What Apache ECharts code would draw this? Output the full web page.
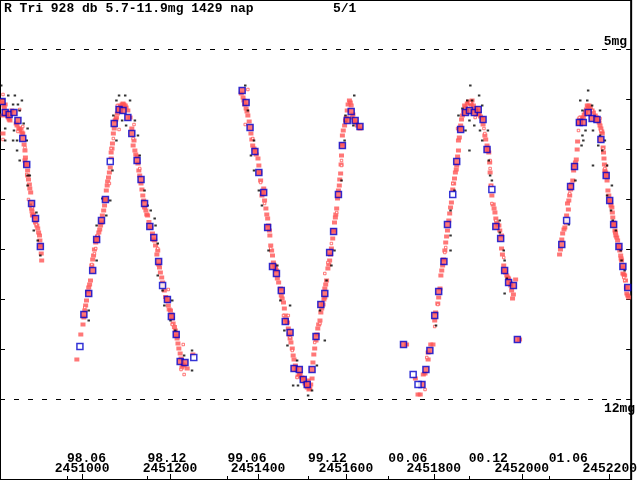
<!DOCTYPE html>
<html>
<head>
<meta charset="utf-8">
<script src="https://cdn.jsdelivr.net/npm/echarts@6/dist/echarts.min.js"></script>
<style>html,body{margin:0;padding:0;background:#fff}#c{width:640px;height:480px}</style>
</head>
<body>
<div id="c"></div>
<script>
// x values are JD - 2450000, y values are visual magnitudes
const titleMain = 'R Tri 928 db 5.7-11.9mg 1429 nap';
const titleRight = '5/1';
const jdTicks = [1000, 1200, 1400, 1600, 1800, 2000, 2200];
const jdLabels = ['2451000', '2451200', '2451400', '2451600', '2451800', '2452000', '2452200'];
const dateTicks = [965.5, 1148.5, 1330.5, 1513.5, 1696.5, 1879.5, 2061.5];
const dateLabels = ['98.06', '98.12', '99.06', '99.12', '00.06', '00.12', '01.06'];
const magTicks = [5, 6, 7, 8, 9, 10, 11, 12];
const magLines = [5, 12];
const magLineLabels = ['5mg', '12mg'];

const redFilled = [
[818,6.06],[823,6.18],[827,6.26],[832,6.36],[825,6.10],[820,6.32],[852,6.52],[858,6.62],[865,6.68],[861,6.58],[836,6.42],[840,6.22],[820,6.68],[870,7.02],[871,7.16],[870,7.22],[876,7.42],[876,7.52],[881,7.78],[883,7.86],[885,8.18],[887,8.32],[892,8.36],[894,8.46],[899,8.58],[903,8.72],[905,8.92],[908,9.22],
[822,6.12],[829,6.30],[834,6.40],[850,6.48],[856,6.58],[863,6.66],[868,6.90],[873,7.30],[878,7.60],[880,7.70],[886,8.24],[889,8.30],[897,8.52],[901,8.66],[904,8.82],[907,9.08],
[988,11.20],[997,10.70],[1002,10.50],[1006,10.22],[1010,10.02],[1013,9.84],[1015,9.76],[1019,9.62],[1022,9.32],[1026,9.12],[1031,8.86],[1035,8.74],[1040,8.60],[1044,8.46],[1046,8.32],[1049,8.22],[1051,8.12],[1055,7.82],[1057,7.72],[1060,7.56],[1062,7.46],[1064,7.36],[1066,7.18],[1066,7.06],[1069,6.88],[1071,6.68],[1073,6.58],[1075,6.42],[1078,6.36],[1080,6.28],[1084,6.22],[1089,6.16],[1093,6.08],[1098,6.12],
[1004,10.36],[1008,10.12],[1017,9.70],[1024,9.20],[1028,9.00],[1033,8.80],[1038,8.66],[1042,8.52],[1053,8.00],[1058,7.64],[1068,6.98],[1077,6.40],[1082,6.20],[1086,6.12],[1091,6.10],[1095,6.10],
[1100,6.16],[1104,6.22],[1109,6.36],[1113,6.58],[1118,6.82],[1116,6.92],[1120,7.02],[1125,7.14],[1127,7.28],[1129,7.42],[1131,7.52],[1134,7.68],[1138,7.92],[1140,8.02],[1142,8.16],[1145,8.22],[1149,8.32],[1156,8.56],[1160,8.68],[1165,8.82],[1167,8.92],[1172,9.02],[1176,9.36],[1178,9.46],[1181,9.56],[1185,9.72],[1187,9.82],[1194,10.02],[1196,10.12],[1201,10.22],[1205,10.38],[1207,10.48],[1212,10.62],[1216,10.78],[1218,10.88],[1223,11.08],[1225,11.18],[1227,11.36],[1232,11.32],[1239,11.38],[1252,11.10],
[1122,7.10],[1136,7.80],[1147,8.30],[1152,8.45],[1162,8.80],[1170,9.10],[1174,9.30],[1183,9.66],[1190,9.95],[1198,10.20],[1203,10.30],[1210,10.55],[1214,10.72],[1220,10.98],[1229,11.30],
[1362,5.88],[1368,6.02],[1373,6.18],[1377,6.32],[1384,6.68],[1388,6.92],[1393,7.02],[1400,7.18],[1402,7.32],[1406,7.62],[1409,7.92],[1413,7.78],[1415,8.02],[1418,8.18],[1422,8.38],[1424,8.52],[1427,8.72],[1429,8.92],[1433,9.12],[1435,9.26],[1442,9.42],[1444,9.58],[1451,9.78],[1453,9.92],[1458,10.06],[1460,10.18],[1462,10.32],[1467,10.46],[1469,10.58],[1473,10.78],[1478,10.98],[1480,11.12],[1485,11.32],[1491,11.54],[1496,11.48],[1503,11.58],[1512,11.76],[1514,11.62],[1518,11.78],[1523,11.58],[1525,11.26],[1529,10.98],[1532,10.82],[1536,10.58],[1541,10.42],[1543,10.26],[1545,10.18],[1552,9.96],[1552,9.78],[1556,9.62],[1559,9.38],[1563,9.22],[1567,8.98],[1570,8.78],[1572,8.62],[1574,8.46],[1579,8.18],[1581,7.98],[1583,7.82],[1585,7.72],[1588,7.48],[1590,7.12],[1592,6.72],[1597,6.52],[1601,6.36],[1603,6.22],[1608,6.02],[1612,6.12],[1614,6.36],[1619,6.42],[1626,6.52],[1632,6.58],
[1366,5.96],[1370,6.10],[1375,6.24],[1380,6.44],[1386,6.80],[1391,6.98],[1396,7.10],[1404,7.46],[1411,7.86],[1420,8.30],[1426,8.62],[1431,9.02],[1438,9.32],[1440,9.38],[1447,9.66],[1455,9.98],[1464,10.40],[1471,10.70],[1475,10.86],[1482,11.20],[1487,11.40],[1494,11.50],[1500,11.56],[1507,11.68],[1510,11.72],[1516,11.80],[1520,11.70],
[1527,11.10],[1534,10.70],[1538,10.50],[1548,10.10],[1550,10.00],[1554,9.70],[1561,9.30],[1565,9.10],[1576,8.36],[1577,8.30],[1586,7.60],[1589,7.30],[1591,6.90],[1594,6.62],[1599,6.42],[1605,6.10],[1610,6.06],[1616,6.30],[1622,6.46],
[1738,10.90],[1758,11.58],[1764,11.90],[1769,11.90],[1776,11.50],[1780,11.48],[1787,11.20],[1787,11.06],[1793,10.90],[1798,10.90],[1802,10.42],[1809,10.08],[1814,9.78],[1816,9.52],[1820,9.32],[1825,9.02],[1827,8.86],[1831,8.62],[1834,8.42],[1836,8.28],[1840,8.06],[1845,7.68],[1847,7.58],[1849,7.46],[1852,7.32],[1856,7.02],[1856,6.82],[1858,6.76],[1861,6.52],[1865,6.32],[1872,6.16],[1876,6.08],[1883,6.08],[1887,6.02],[1894,6.18],[1899,6.22],[1903,6.28],[1910,6.38],[1916,6.72],[1921,6.92],[1925,7.06],[1928,7.46],[1930,7.72],[1932,7.92],[1939,8.26],[1941,8.38],[1943,8.46],[1948,8.52],[1954,8.72],[1954,8.98],[1959,9.32],[1961,9.42],[1966,9.52],[1970,9.58],[1975,9.72],[1977,9.82],[1979,9.98],[1986,9.60],[1995,10.80],
[1804,10.26],[1811,9.96],[1818,9.42],[1822,9.20],[1829,8.74],[1838,8.16],[1843,7.80],[1851,7.40],[1854,7.14],[1860,6.60],[1863,6.40],[1868,6.24],[1870,6.12],[1879,6.04],[1885,6.10],[1890,6.12],[1896,6.22],[1901,6.30],[1906,6.34],[1912,6.50],[1918,6.80],[1923,7.00],[1927,7.26],[1935,8.10],[1937,8.18],[1945,8.50],[1950,8.62],[1956,9.10],[1963,9.46],[1968,9.56],[1973,9.66],[1981,9.90],
[2086,9.10],[2091,8.80],[2093,8.68],[2098,8.56],[2102,8.32],[2104,8.08],[2107,8.02],[2109,7.92],[2116,7.62],[2118,7.42],[2120,7.32],[2124,7.20],[2127,6.84],[2129,6.48],[2133,6.42],[2140,6.36],[2145,6.26],[2149,6.12],[2151,6.16],[2160,6.22],[2167,6.32],[2174,6.42],[2178,6.52],[2180,6.58],[2183,6.68],[2185,6.96],[2187,7.18],[2189,7.42],[2192,7.52],[2194,7.62],[2196,7.82],[2200,8.02],[2203,8.12],[2205,8.16],[2207,8.36],[2209,8.46],[2212,8.62],[2214,8.72],[2216,8.76],[2218,8.82],[2223,9.02],[2225,9.12],[2227,9.22],[2230,9.48],[2234,9.52],[2236,9.62],[2239,9.88],[2241,9.92],
[2088,9.00],[2096,8.60],[2100,8.44],[2106,8.20],[2111,7.80],[2113,7.70],[2122,7.26],[2126,7.00],[2131,6.40],[2136,6.36],[2142,6.30],[2147,6.20],[2153,6.12],[2156,6.16],[2163,6.26],[2170,6.36],[2176,6.46],[2182,6.64],[2186,7.06],[2188,7.30],[2191,7.46],[2198,7.92],[2202,8.06],[2206,8.26],[2210,8.52],[2213,8.66],[2220,8.92],[2221,8.96],[2226,9.18],[2229,9.36],[2232,9.50],[2238,9.76],[2243,9.96]
];

const redHollow = [
[820,5.90],[858,6.20],[865,6.54],[854,6.64],[870,6.96],[874,7.50],[878,8.00],[887,8.16],[896,8.50],[820,6.80],
[1062,7.68],[1035,8.72],[1028,9.08],[1022,9.30],[1006,10.16],[1031,8.98],[1066,6.98],[1071,6.78],[1080,6.12],[1084,6.60],[1118,6.50],[1116,6.78],[1131,7.38],[1172,8.98],[1196,9.80],[1205,10.50],[1230,10.90],[1225,11.40],[1232,11.50],
[1377,5.80],[1371,6.50],[1388,6.78],[1406,7.66],[1415,8.08],[1429,8.98],[1458,10.32],[1469,10.32],[1473,10.76],[1478,11.02],[1489,11.56],[1518,11.72],[1529,10.86],[1541,10.48],[1552,9.48],[1559,9.26],[1567,8.88],[1579,8.26],[1590,7.22],[1590,7.32],
[1784,11.16],[1780,11.80],[1802,10.54],[1809,10.10],[1825,9.06],[1827,8.96],[1843,7.68],[1854,6.58],[1856,6.60],[1883,6.06],[1894,6.36],[1914,6.58],[1916,6.68],[1928,7.22],[1928,7.38],[1930,7.72],[1932,8.08],[1941,8.42],[1959,9.16],
[2129,6.62],[2131,6.36],[2160,6.22],[2178,6.38],[2180,6.62],[2185,6.98],[2189,7.38],[2192,7.32],[2100,8.48],[2109,7.88],[2232,9.56],[2234,9.62]
];

const blackDots = [
[816,5.72],[832,5.92],[847,5.92],[843,6.10],[854,6.10],[863,6.02],[858,6.22],[867,6.48],[876,6.58],[825,6.58],[845,6.62],[825,6.82],[843,6.82],[852,6.82],[874,6.82],[852,7.02],[858,7.22],[876,7.52],[881,7.52],[876,7.72],[883,8.10],[896,8.26],[890,8.62],[899,8.82],[905,9.12],
[1084,5.92],[1098,5.92],[1078,6.02],[1109,6.02],[1071,6.32],[1091,6.42],[1100,6.52],[1120,6.42],[1127,6.72],[1078,6.82],[1069,7.42],[1131,7.12],[1142,7.82],[1156,8.22],[1055,8.32],[1033,8.52],[1165,8.38],[1167,8.52],[1172,8.88],[1033,9.22],[1172,9.52],[1015,10.22],[1015,10.42],[1205,10.02],[1187,10.12],[1212,10.62],[1250,11.02],[1250,11.42],[1232,11.12],[1201,10.42],[1183,9.82],[1149,8.12],[1046,7.98],[1064,8.02],
[1371,5.72],[1377,6.22],[1391,6.82],[1384,7.12],[1391,7.42],[1409,8.12],[1424,9.02],[1444,9.32],[1451,10.02],[1473,10.12],[1467,10.92],[1489,11.22],[1480,11.72],[1491,11.72],[1514,11.92],[1523,11.82],[1534,11.32],[1552,10.82],[1541,10.22],[1556,9.62],[1567,9.32],[1574,9.02],[1590,7.62],[1597,6.82],[1599,6.32],[1617,6.52],[1619,5.92],[1599,6.44],[1402,7.82],[1460,10.62],
[1883,5.72],[1903,5.92],[1876,6.02],[1887,6.02],[1910,6.12],[1856,6.32],[1881,6.42],[1892,6.52],[1872,6.62],[1905,6.62],[1923,6.62],[1910,6.82],[1881,7.02],[1925,7.22],[1847,7.82],[1932,7.62],[1838,8.22],[1950,8.42],[1950,8.66],[1838,8.72],[1838,9.02],[1959,9.02],[1961,9.22],[1966,9.58],[1961,9.88],[1805,10.52],[1928,7.52],[1865,6.18],
[2151,5.82],[2133,6.02],[2149,6.02],[2160,6.12],[2138,6.22],[2178,6.22],[2145,6.62],[2162,6.62],[2138,6.72],[2178,6.72],[2140,6.82],[2189,6.82],[2136,6.92],[2174,6.92],[2183,7.02],[2162,7.32],[2194,7.32],[2205,7.72],[2194,7.92],[2203,8.22],[2207,8.42],[2214,8.62],[2225,9.02],[2227,9.22],[2234,9.42],[2122,7.62],[2107,8.50]
];

const blueFilled = [
[818,6.04],[825,6.26],[834,6.30],[845,6.26],[854,6.42],[865,6.78],[874,7.30],[885,8.08],[894,8.38],[905,8.94],
[1084,6.20],[1093,6.22],[1104,6.36],[1073,6.48],[1113,6.68],[1125,7.22],[1134,7.60],[1053,8.00],[1142,8.08],[1044,8.42],[1154,8.54],[1033,8.80],[1163,8.76],[1174,9.24],[1024,9.42],[1015,9.88],[1194,10.00],[1004,10.30],[1203,10.34],[1214,10.70],[1223,11.24],[1234,11.26],
[1364,5.82],[1373,6.06],[1382,6.56],[1393,7.04],[1402,7.46],[1413,7.86],[1422,8.56],[1433,9.34],[1442,9.48],[1453,9.82],[1462,10.44],[1473,10.66],[1482,11.38],[1494,11.40],[1503,11.60],[1512,11.70],[1523,11.40],[1532,10.74],[1543,10.10],[1552,9.88],[1563,9.06],[1572,8.64],[1583,7.90],[1592,6.92],[1603,6.42],[1612,6.24],[1621,6.42],[1632,6.54],
[1731,10.90],[1791,11.02],[1782,11.40],[1773,11.70],[1802,10.32],[1811,9.84],[1823,9.24],[1831,8.50],[1852,7.24],[1861,6.60],[1872,6.26],[1881,6.22],[1892,6.26],[1901,6.20],[1912,6.40],[1921,7.00],[1941,8.54],[1952,8.78],[1961,9.42],[1970,9.66],[1981,9.72],[1990,10.80],
[2091,8.90],[2111,7.74],[2120,7.34],[2131,6.46],[2140,6.46],[2151,6.26],[2160,6.38],[2171,6.40],[2180,6.80],[2192,7.52],[2200,8.02],[2209,8.50],[2221,8.94],[2230,9.34],[2241,9.76]
];

const blueOpen = [
[1064,7.24],[1183,9.72],[995,10.94],[1254,11.16],
[1753,11.50],[1764,11.70],[1843,7.90],[1932,7.80],
[2102,8.42]
];

const XMIN = 813.2, XMAX = 2248.8;
const YMIN = 4.01, YMAX = 13.61;
const FONT = 'Liberation Mono';
const txt = {fontFamily: FONT, fontWeight: 'bold', fontSize: 13, color: '#000'};

const chart = echarts.init(document.getElementById('c'), null, {renderer: 'canvas'});
const tickStyle = {color: '#000', width: 1};
chart.setOption({
  animation: false,
  backgroundColor: '#fff',
  title: [
    {text: titleMain, left: 4, top: 1, padding: 0, textStyle: Object.assign({}, txt, {lineHeight: 16})},
    {text: titleRight, left: 333, top: 1, padding: 0, textStyle: Object.assign({}, txt, {lineHeight: 16})}
  ],
  grid: {left: 0, right: 0, top: 0, bottom: 0, show: true, borderColor: '#000', borderWidth: 2, backgroundColor: '#fff', containLabel: false},
  xAxis: [
    {type: 'value', min: XMIN, max: XMAX, position: 'bottom', axisLine: {show: false}, splitLine: {show: false},
     axisTick: {show: true, inside: true, length: 6, customValues: jdTicks, lineStyle: tickStyle},
     axisLabel: Object.assign({show: true, inside: true, margin: 5, customValues: jdTicks,
       formatter: v => { const i = jdTicks.indexOf(v); return i >= 0 ? jdLabels[i] : ''; }}, txt)},
    {type: 'value', min: XMIN, max: XMAX, position: 'bottom', axisLine: {show: false}, splitLine: {show: false},
     axisTick: {show: true, inside: true, length: 4, customValues: dateTicks, lineStyle: tickStyle},
     axisLabel: Object.assign({show: true, inside: true, margin: 15, align: 'left', customValues: dateTicks,
       formatter: v => { const i = dateTicks.indexOf(v); return i >= 0 ? dateLabels[i] : ''; }}, txt)}
  ],
  yAxis: [
    {type: 'value', inverse: true, min: YMIN, max: YMAX, position: 'left', axisLine: {show: false}, splitLine: {show: false},
     axisTick: {show: true, inside: true, length: 5, customValues: magTicks, lineStyle: tickStyle}, axisLabel: {show: false}},
    {type: 'value', inverse: true, min: YMIN, max: YMAX, position: 'right', axisLine: {show: false}, splitLine: {show: false},
     axisTick: {show: true, inside: true, length: 5, customValues: magTicks, lineStyle: tickStyle}, axisLabel: {show: false}}
  ],
  series: [
    {type: 'scatter', name: 'vis', data: redFilled, symbol: 'rect', symbolSize: [5, 4], itemStyle: {color: '#ff5555'}, silent: true,
     markLine: {silent: true, symbol: 'none', animation: false,
       lineStyle: {color: '#000', width: 1, type: [5, 9]},
       data: [
         {yAxis: magLines[0], label: Object.assign({show: true, position: 'insideEndTop', formatter: magLineLabels[0], distance: [4, 1]}, txt)},
         {yAxis: magLines[1], label: Object.assign({show: true, position: 'insideEndBottom', formatter: magLineLabels[1], distance: [-4, 3]}, txt)}
       ]}},
    {type: 'scatter', name: 'vis2', data: redHollow, symbol: 'rect', symbolSize: 2.5, itemStyle: {color: '#fff', borderColor: '#ff5555', borderWidth: 1}, silent: true},
    {type: 'scatter', name: 'other', data: blackDots, symbol: 'rect', symbolSize: [2.5, 2], itemStyle: {color: '#000'}, silent: true},
    {type: 'scatter', name: 'mean', data: blueFilled, symbol: 'rect', symbolSize: 6, itemStyle: {color: '#ff5555', borderColor: '#0000cc', borderWidth: 1.5}, silent: true},
    {type: 'scatter', name: 'mean2', data: blueOpen, symbol: 'rect', symbolSize: 6, itemStyle: {color: '#fff', borderColor: '#0000cc', borderWidth: 1.5}, silent: true}
  ]
});
</script>
</body>
</html>
